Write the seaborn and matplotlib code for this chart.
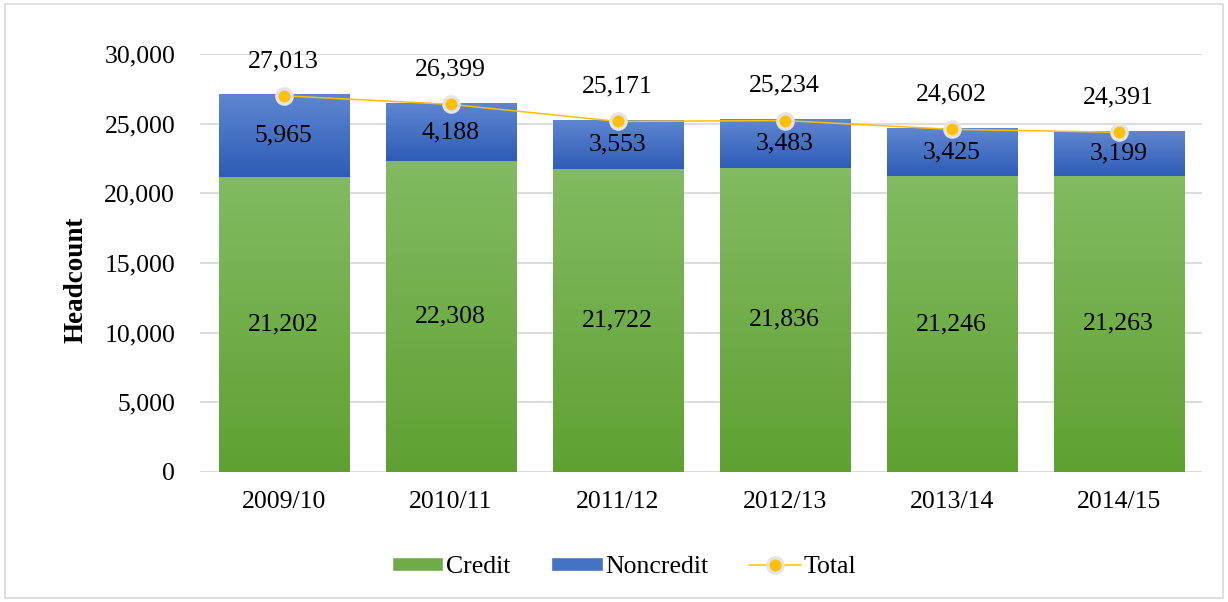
import numpy as np
import pandas as pd
import matplotlib
matplotlib.use('Agg')
import matplotlib.pyplot as plt
from matplotlib.colors import LinearSegmentedColormap
from matplotlib.patches import Patch, Rectangle
from matplotlib.lines import Line2D
import seaborn as sns

# data
years = ['2009/10', '2010/11', '2011/12', '2012/13', '2013/14', '2014/15']
credit = [21202, 22308, 21722, 21836, 21246, 21263]
noncredit = [5965, 4188, 3553, 3483, 3425, 3199]
total = [27013, 26399, 25171, 25234, 24602, 24391]

GREEN_TOP, GREEN_BOT = '#82BB62', '#5FA131'
BLUE_TOP, BLUE_BOT = '#5F87D1', '#2E5CB6'
YELLOW = '#FFC000'
GRID = '#D9D9D9'

sns.set_style('white')
plt.rcParams['font.family'] = ['Liberation Serif', 'DejaVu Serif']
plt.rcParams['text.color'] = 'black'
plt.rcParams['xtick.color'] = 'black'
plt.rcParams['ytick.color'] = 'black'
plt.rcParams['axes.labelcolor'] = 'black'
FS = 18.5

df = pd.DataFrame({'year': years, 'credit': credit, 'noncredit': noncredit, 'total': total})

fig = plt.figure(figsize=(12.28, 6.02), dpi=100)
ax = fig.add_axes([0.163, 0.216, 0.816, 0.694])

sns.barplot(data=df, x='year', y='credit', color=GREEN_BOT, width=0.78,
            saturation=1, ax=ax, zorder=2)
sns.barplot(data=df, x='year', y='noncredit', bottom=df['credit'].values,
            color=BLUE_BOT, width=0.78, saturation=1, ax=ax, zorder=2)

# gradient fill inside each bar
green_cmap = LinearSegmentedColormap.from_list('g', [GREEN_BOT, GREEN_TOP])
blue_cmap = LinearSegmentedColormap.from_list('b', [BLUE_BOT, BLUE_TOP])
grad = np.linspace(0, 1, 256).reshape(-1, 1)
n = len(years)
for i, p in enumerate(ax.patches):
    cmap = green_cmap if i < n else blue_cmap
    x0, y0 = p.get_x(), p.get_y()
    w, h = p.get_width(), p.get_height()
    im = ax.imshow(grad, cmap=cmap, origin='lower', aspect='auto',
                   extent=[x0, x0 + w, y0, y0 + h], zorder=2.1)
    im.set_clip_path(p)

sns.pointplot(data=df, x='year', y='total', color=YELLOW, errorbar=None,
              markers='o', linestyles='-', linewidth=1.1, markersize=11,
              markeredgecolor='#E4E4E4', markeredgewidth=2.4, ax=ax, zorder=4)

# data labels
for i in range(n):
    ax.text(i, credit[i] / 2, f'{credit[i]:,}', ha='center', va='center',
            fontsize=FS, zorder=5)
    ax.text(i, credit[i] + noncredit[i] / 2, f'{noncredit[i]:,}', ha='center',
            va='center', fontsize=FS, zorder=5)
    ax.annotate(f'{total[i]:,}', (i, total[i]), xytext=(0, 25),
                textcoords='offset points', ha='center', va='center',
                fontsize=FS, zorder=5)

ax.set_xlim(-0.5, n - 0.5)
ax.set_ylim(0, 30000)
ax.set_yticks(range(0, 30001, 5000))
ax.yaxis.set_major_formatter(matplotlib.ticker.FuncFormatter(lambda v, _: f'{int(v):,}'))
ax.yaxis.grid(True, color=GRID, linewidth=1.3, zorder=0)
ax.set_axisbelow(True)
for s in ax.spines.values():
    s.set_visible(False)
ax.axhline(0, color=GRID, linewidth=1.3, zorder=1)
ax.tick_params(axis='y', length=0, pad=18, labelsize=FS)
ax.tick_params(axis='x', length=0, pad=14, labelsize=FS)
ax.set_xlabel('')
ax.set_ylabel('Headcount', fontsize=19.5, fontweight='bold')
ax.yaxis.set_label_coords(-0.111, 0.459)

handles = [
    Patch(facecolor='#6FAC47', label='Credit'),
    Patch(facecolor='#4472C4', label='Noncredit'),
    Line2D([0], [0], color=YELLOW, linewidth=1.1, marker='o', markersize=11,
           markerfacecolor=YELLOW, markeredgecolor='#E4E4E4',
           markeredgewidth=2.4, label='Total'),
]
fig.legend(handles=handles, loc='center', bbox_to_anchor=(0.508, 0.058), ncol=3,
           frameon=False, fontsize=FS, handlelength=2.0, handleheight=0.5,
           handletextpad=0.1, columnspacing=1.6)

fig.patches.append(Rectangle((0.004, 0.006), 0.992, 0.988, transform=fig.transFigure,
                             fill=False, edgecolor=GRID, linewidth=1.2))

fig.savefig('out.png', dpi=100)
